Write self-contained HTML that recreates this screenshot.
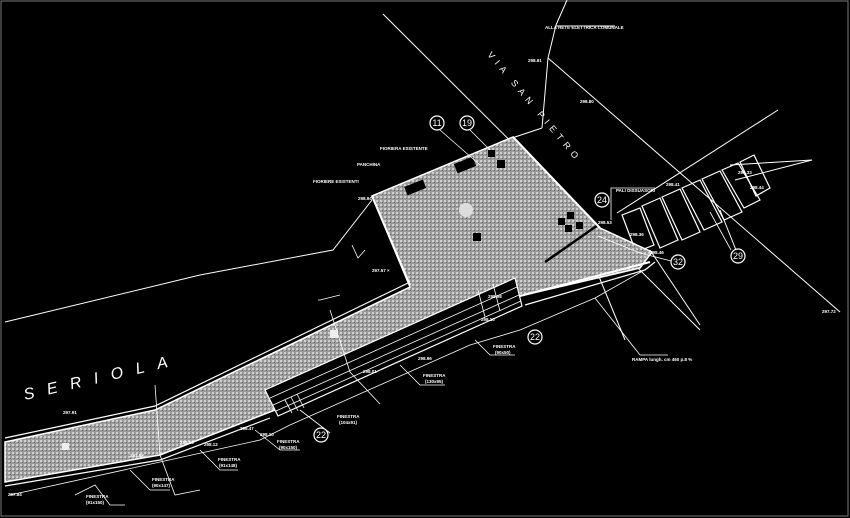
<!DOCTYPE html>
<html><head><meta charset="utf-8"><style>
html,body{margin:0;padding:0;background:#000;}
svg{display:block}
text{font-family:"Liberation Sans",sans-serif;fill:#fff;}
</style></head><body>
<svg width="850" height="518" viewBox="0 0 850 518" xmlns="http://www.w3.org/2000/svg">
<defs>
<pattern id="g" width="4" height="4" patternUnits="userSpaceOnUse">
<rect width="4" height="4" fill="#9a9a9a"/>
<rect width="2" height="2" fill="#cfcfcf"/>
<rect x="2" y="2" width="1" height="1" fill="#666"/>
</pattern>
</defs>
<rect x="0" y="0" width="850" height="518" fill="#000"/>
<rect x="1" y="1" width="847" height="515" fill="none" stroke="#777" stroke-width="1"/>
<g stroke="#fff" fill="none" stroke-width="1">
<polyline points="5,322 200,275 333,250 372,200"/>
<line x1="383" y1="14" x2="700" y2="330"/>
<line x1="548" y1="58" x2="840" y2="312"/>
<line x1="548" y1="58" x2="556" y2="25"/>
<line x1="556" y1="25" x2="567" y2="0"/>
<line x1="548" y1="58" x2="542" y2="128"/>
<line x1="542" y1="128" x2="500" y2="142"/>
<line x1="556" y1="26" x2="615" y2="26"/>
<line x1="617" y1="213" x2="778" y2="110"/>
<line x1="730" y1="165" x2="812" y2="160"/>
<line x1="735" y1="180" x2="812" y2="160"/>
<line x1="650" y1="250" x2="700" y2="325"/>
<line x1="593" y1="262" x2="625" y2="340"/>
<line x1="720" y1="210" x2="738" y2="255"/>
</g>
<g stroke="#fff" fill="none" stroke-width="1.2">
<polygon points="622,215 640,208 654,245 636,252"/>
<polygon points="642,206 660,198 678,240 660,248"/>
<polygon points="662,197 680,189 700,232 682,240"/>
<polygon points="682,188 700,180 722,222 704,230"/>
<polygon points="702,179 720,171 742,212 724,220"/>
<polygon points="722,170 738,163 760,200 744,208"/>
<polygon points="740,162 754,155 770,188 756,196"/>
</g>
<polygon points="372,196 513,137 600,228 652,252 640,268 520,296 275,410 160,455 5,482 5,442 155,410 410,287" fill="url(#g)" stroke="#fff" stroke-width="1.5"/>
<g stroke="#fff" fill="none" stroke-width="1.2">
<polyline points="5,438 155,406 408,283"/>
<polyline points="5,486 160,460 270,418"/>
<line x1="545" y1="262" x2="598" y2="225" stroke="#000" stroke-width="2.5"/>
<line x1="372" y1="196" x2="410" y2="285" stroke-width="2"/>
<line x1="513" y1="137" x2="600" y2="228" stroke-width="2"/>
<line x1="520" y1="296" x2="650" y2="262" stroke-width="2"/>
<polyline points="525,305 645,270 655,262"/>
</g>
<polygon points="265,390 515,278 522,306 278,416" fill="#000" stroke="#fff" stroke-width="1.2"/>
<g stroke="#fff" stroke-width="0.8">
<line x1="270" y1="398" x2="517" y2="287"/>
<line x1="273" y1="405" x2="519" y2="295"/>
<line x1="276" y1="411" x2="521" y2="301"/>
<line x1="478" y1="290" x2="485" y2="317"/>
<line x1="493" y1="284" x2="500" y2="311"/>
<line x1="285" y1="400" x2="292" y2="413"/>
<line x1="291" y1="397" x2="298" y2="411"/>
<line x1="297" y1="394" x2="304" y2="408"/>
</g>
<g stroke="#fff" fill="none" stroke-width="0.8">
<polyline points="10,495 260,440 290,425"/>
<polyline points="290,425 470,345 520,330"/>
<polyline points="520,330 595,298 648,268"/>
<polyline points="75,495 95,485 110,505 125,505"/>
<polyline points="130,470 150,490 170,490"/>
<polyline points="200,450 220,470 238,470"/>
<polyline points="255,430 280,450 300,450"/>
<polyline points="400,365 420,385 445,385"/>
<polyline points="475,340 490,355 515,355"/>
<polyline points="300,410 330,433"/>
<polyline points="595,298 640,355 668,355"/>
<polyline points="155,385 160,455 175,495 200,490"/>
<polyline points="318,300 320,300 340,295"/>
<polyline points="330,310 350,372 380,404"/>
<polyline points="611,220 611,188 655,188"/>
<polyline points="598,236 640,253 675,262"/>
<polyline points="352,245 358,258 365,250"/>
</g>
<g fill="#000">
<rect x="455" y="160" width="20" height="10" transform="rotate(-22 465 165)"/>
<rect x="405" y="183" width="20" height="9" transform="rotate(-22 415 187)"/>
<rect x="488" y="150" width="7" height="7"/>
<rect x="497" y="160" width="8" height="8"/>
<rect x="473" y="233" width="8" height="8"/>
<rect x="558" y="218" width="7" height="7"/>
<rect x="567" y="212" width="7" height="7"/>
<rect x="565" y="225" width="7" height="7"/>
<rect x="576" y="222" width="7" height="7"/>
</g>
<circle cx="466" cy="210" r="7" fill="#ddd"/>
<rect x="330" y="330" width="8" height="8" fill="#eee"/>
<rect x="62" y="443" width="7" height="7" fill="#eee"/>
<g stroke="#fff" fill="#000" stroke-width="1.2">
<circle cx="437" cy="123" r="7"/><circle cx="467" cy="123" r="7"/>
<circle cx="602" cy="200" r="7"/><circle cx="678" cy="262" r="7"/>
<circle cx="738" cy="256" r="7"/><circle cx="535" cy="337" r="7"/>
<circle cx="321" cy="435" r="7"/>
</g>
<g stroke="#fff" stroke-width="0.8">
<line x1="440" y1="130" x2="480" y2="165"/><line x1="470" y1="130" x2="490" y2="150"/>
<line x1="731" y1="250" x2="710" y2="212"/>
</g>
<g font-size="9" text-anchor="middle">
<text x="437" y="126">11</text><text x="467" y="126">19</text>
<text x="602" y="203">24</text><text x="678" y="265">32</text>
<text x="738" y="259">29</text><text x="535" y="340">22</text>
<text x="321" y="438">22</text>
</g>
<g font-size="4.5" font-weight="bold">
<text x="545" y="29">ALLA RETE ELETTRICA COMUNALE</text>
<text x="528" y="62">298.61</text><text x="580" y="103">298.80</text>
<text x="380" y="150">FIORIERA ESISTENTE</text><text x="357" y="166">PANCHINA</text>
<text x="313" y="183">FIORIERE ESISTENTI</text><text x="358" y="200">298.94</text>
<text x="372" y="272">297.57 ×</text><text x="616" y="192">PALI DISSUASORI</text>
<text x="666" y="186">298.41</text><text x="738" y="174">298.33</text><text x="750" y="189">298.44</text>
<text x="822" y="313">297.72</text><text x="632" y="361">RAMPA lungh. cm 460 p.8 %</text>
<text x="493" y="348">FINESTRA</text><text x="495" y="354">(90x50)</text>
<text x="423" y="377">FINESTRA</text><text x="425" y="383">(130x95)</text>
<text x="337" y="418">FINESTRA</text><text x="339" y="424">(104x91)</text>
<text x="277" y="443">FINESTRA</text><text x="279" y="449">(90x150)</text>
<text x="218" y="461">FINESTRA</text><text x="219" y="467">(91x148)</text>
<text x="152" y="481">FINESTRA</text><text x="152" y="487">(90x147)</text>
<text x="86" y="498">FINESTRA</text><text x="86" y="504">(91x150)</text>
<text x="63" y="414">297.91</text><text x="8" y="496">297.84</text>
<text x="180" y="444">298.58</text><text x="204" y="446">298.12</text>
<text x="130" y="457">297.88</text><text x="240" y="430">298.47</text><text x="260" y="436">298.10</text>
<text x="488" y="298">298.58</text><text x="481" y="321">298.10</text><text x="418" y="360">298.96</text>
<text x="363" y="373">298.01</text><text x="598" y="224">298.53</text><text x="630" y="236">298.36</text>
<text x="650" y="254">298.46</text>
</g>
<g font-size="16" font-style="italic" letter-spacing="13">
<text transform="translate(25,400) rotate(-13)">SERIOLA</text>
</g>
<g font-size="9" letter-spacing="5">
<text transform="translate(487,55) rotate(50)">VIA SAN PIETRO</text>
</g>
</svg>
</body></html>
